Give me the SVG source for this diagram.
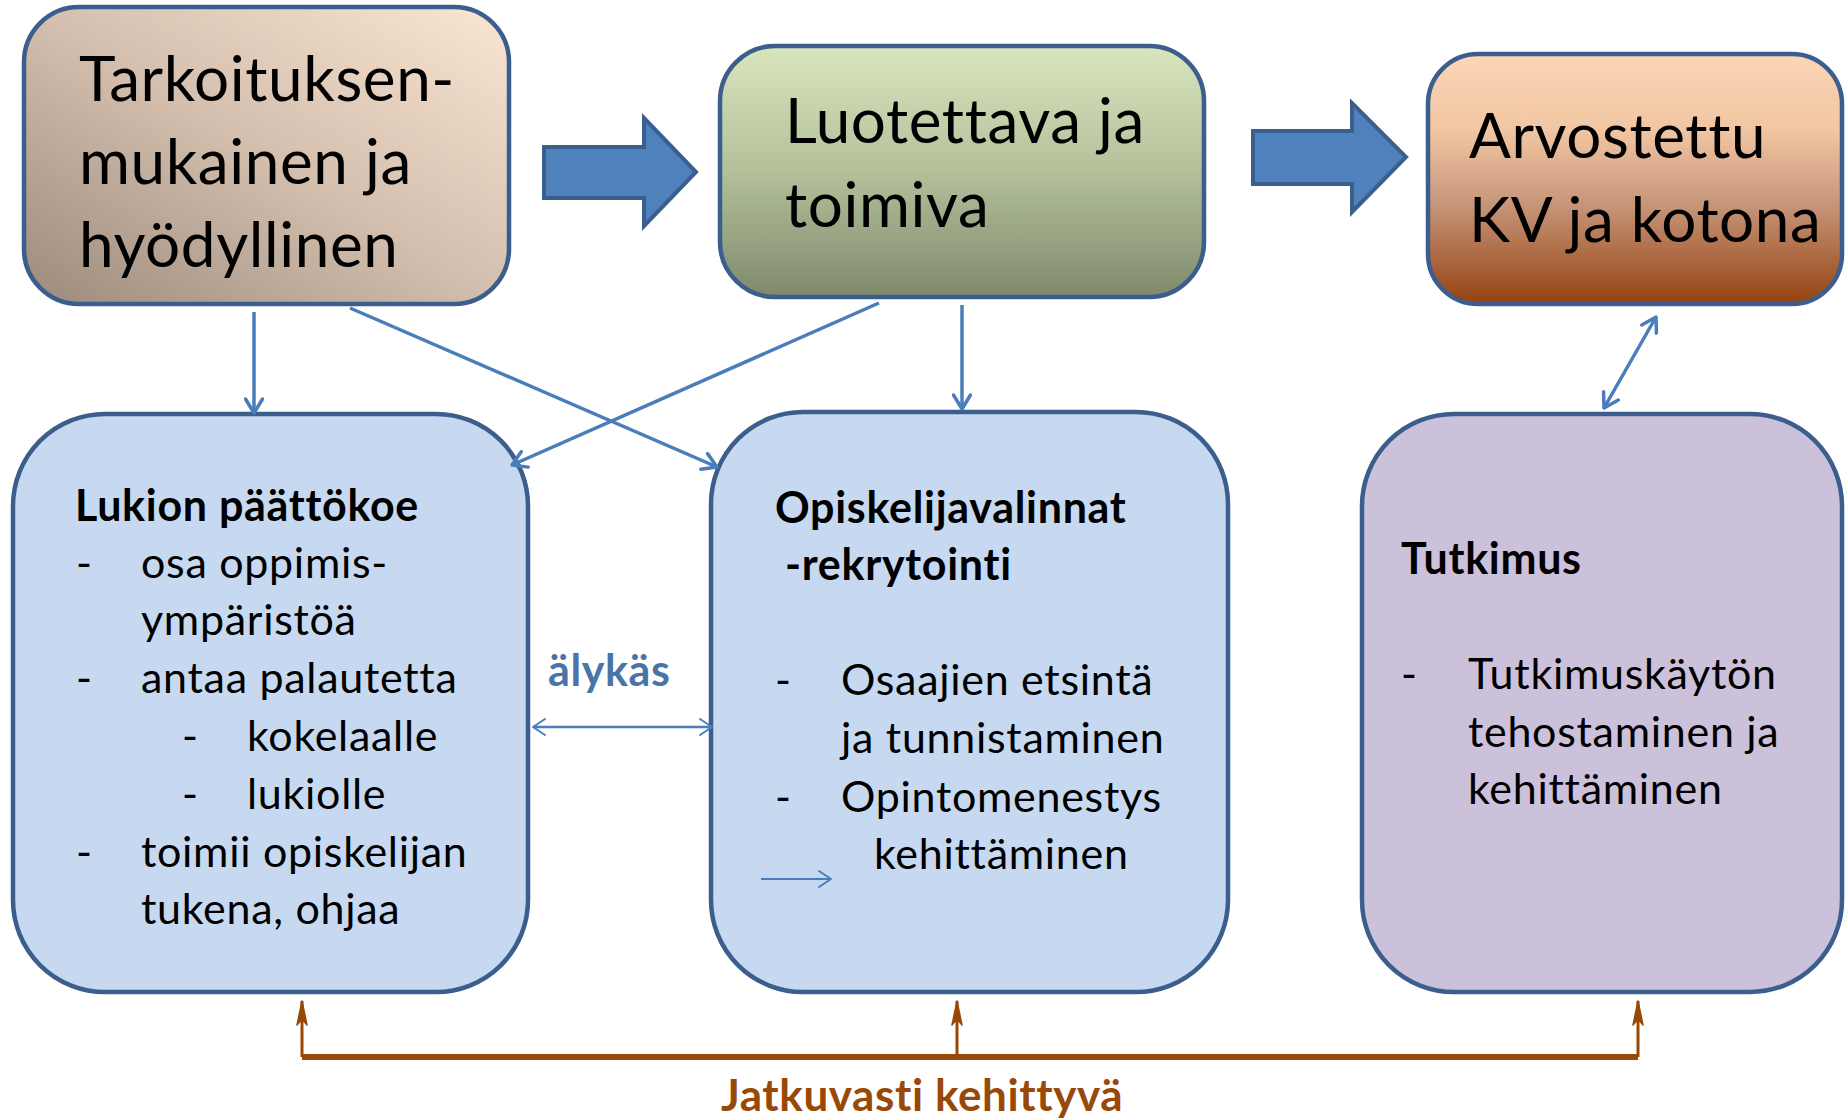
<svg xmlns="http://www.w3.org/2000/svg" width="1847" height="1119" viewBox="0 0 1847 1119">
<defs>
<linearGradient id="g1" x1="0" y1="1" x2="1" y2="0">
<stop offset="0" stop-color="#9c8a7c"/>
<stop offset="0.5" stop-color="#d4bfae"/>
<stop offset="1" stop-color="#fbe6d4"/>
</linearGradient>
<linearGradient id="g2" x1="0" y1="0" x2="0" y2="1">
<stop offset="0" stop-color="#d8e5bd"/>
<stop offset="0.5" stop-color="#b3c09a"/>
<stop offset="1" stop-color="#7f8a6c"/>
</linearGradient>
<linearGradient id="g3" x1="0" y1="0" x2="0" y2="1">
<stop offset="0" stop-color="#fbd6b6"/>
<stop offset="0.3" stop-color="#f2c6a3"/>
<stop offset="0.6" stop-color="#c7967a"/>
<stop offset="1" stop-color="#944210"/>
</linearGradient>
<marker id="open" viewBox="-16 -10 18 20" refX="0" refY="0" markerWidth="18" markerHeight="20" markerUnits="userSpaceOnUse" orient="auto-start-reverse">
<path d="M-14,-8.5 L0,0 L-14,8.5" fill="none" stroke="#4a7ebb" stroke-width="3.5" stroke-linecap="round" stroke-linejoin="round"/>
</marker>
<marker id="openthin" viewBox="-16 -10 18 20" refX="0" refY="0" markerWidth="18" markerHeight="20" markerUnits="userSpaceOnUse" orient="auto-start-reverse">
<path d="M-12,-8 L0,0 L-12,8" fill="none" stroke="#4a7ebb" stroke-width="2" stroke-linecap="round" stroke-linejoin="round"/>
</marker>
<marker id="brown" viewBox="-26 -7 28 14" refX="0" refY="0" markerWidth="28" markerHeight="14" markerUnits="userSpaceOnUse" orient="auto">
<path d="M0,0 L-24,-5 L-18,0 L-24,5 Z" fill="#984807" stroke="#984807" stroke-width="1.5" stroke-linejoin="round"/>
</marker>
</defs>
<style>
.box{stroke:#3b5e8c;stroke-width:4.5}
.big{font-family:Lato,"Liberation Sans",sans-serif;font-size:62px;letter-spacing:0.6px;fill:#000}
.t{font-family:Lato,"Liberation Sans",sans-serif;font-size:43px;letter-spacing:0.7px;fill:#000}
.b{font-family:Lato,"Liberation Sans",sans-serif;font-size:43px;letter-spacing:0.7px;font-weight:bold;fill:#000}
.blk{fill:#4f81bd;stroke:#3a5f8c;stroke-width:4}
.con{stroke:#4a7ebb;stroke-width:3.5;fill:none}
.brn{stroke:#984807;fill:none}
</style>
<rect width="1847" height="1119" fill="#fff"/>
<g id="n-tarkoituksen">
<rect class="box" x="24" y="7" width="485" height="297" rx="55" fill="url(#g1)"/>
<text class="big" x="79" y="101">Tarkoituksen-</text>
<text class="big" x="79" y="184">mukainen ja</text>
<text class="big" x="79" y="267">hyödyllinen</text>
</g>
<g id="n-luotettava">
<rect class="box" x="720" y="46" width="484" height="251" rx="55" fill="url(#g2)"/>
<text class="big" x="785" y="143">Luotettava ja</text>
<text class="big" x="785" y="227">toimiva</text>
</g>
<g id="n-arvostettu">
<rect class="box" x="1428" y="54" width="414" height="250" rx="50" fill="url(#g3)"/>
<text class="big" x="1469" y="158">Arvostettu</text>
<text class="big" x="1469" y="242">KV ja kotona</text>
</g>
<g id="a-block1">
<path class="blk" d="M544,147 L644,147 L644,118 L696,172 L644,226 L644,198 L544,198 Z"/>
</g>
<g id="a-block2">
<path class="blk" d="M1253,131 L1352,131 L1352,103 L1406,157 L1352,212 L1352,184 L1253,184 Z"/>
</g>
<g id="n-lukion">
<rect class="box" x="13" y="414" width="515" height="578" rx="92" fill="#c6d9f0"/>
<text class="b" x="75" y="521">Lukion päättökoe</text>
<text class="t" x="76" y="578">-</text><text class="t" x="141" y="578">osa oppimis-</text>
<text class="t" x="141" y="635">ympäristöä</text>
<text class="t" x="76" y="693">-</text><text class="t" x="141" y="693">antaa palautetta</text>
<text class="t" x="182" y="751">-</text><text class="t" x="247" y="751">kokelaalle</text>
<text class="t" x="182" y="809">-</text><text class="t" x="247" y="809">lukiolle</text>
<text class="t" x="76" y="867">-</text><text class="t" x="141" y="867">toimii opiskelijan</text>
<text class="t" x="141" y="924">tukena, ohjaa</text>
</g>
<g id="n-opiskelija">
<rect class="box" x="711" y="412" width="517" height="580" rx="92" fill="#c6d9f0"/>
<text class="b" x="775" y="523">Opiskelijavalinnat</text>
<text class="b" x="785" y="580">-rekrytointi</text>
<text class="t" x="775" y="695">-</text><text class="t" x="841" y="695">Osaajien etsintä</text>
<text class="t" x="841" y="753">ja tunnistaminen</text>
<text class="t" x="775" y="812">-</text><text class="t" x="841" y="812">Opintomenestys</text>
<text class="t" x="874" y="869">kehittäminen</text>
</g>
<g id="n-tutkimus">
<rect class="box" x="1362" y="414" width="480" height="578" rx="92" fill="#ccc1da"/>
<text class="b" x="1401" y="574">Tutkimus</text>
<text class="t" x="1401" y="689">-</text><text class="t" x="1468" y="689">Tutkimuskäytön</text>
<text class="t" x="1468" y="747">tehostaminen ja</text>
<text class="t" x="1468" y="804">kehittäminen</text>
</g>
<g id="connectors">
<line class="con" x1="254" y1="312" x2="254" y2="413" marker-end="url(#open)"/>
<line class="con" x1="350" y1="308" x2="717" y2="467" marker-end="url(#open)"/>
<line class="con" x1="879" y1="303" x2="512" y2="465" marker-end="url(#open)"/>
<line class="con" x1="962" y1="305" x2="962" y2="409" marker-end="url(#open)"/>
<line class="con" x1="1604" y1="408" x2="1656" y2="317" marker-start="url(#open)" marker-end="url(#open)"/>
<line class="con" style="stroke-width:2.5" x1="533" y1="727" x2="712" y2="727" marker-start="url(#openthin)" marker-end="url(#openthin)"/>
<line class="con" style="stroke-width:1.8" x1="761" y1="879" x2="831" y2="879" marker-end="url(#openthin)"/>
<line class="brn" stroke-width="6" x1="302" y1="1057" x2="1638" y2="1057"/>
<line class="brn" stroke-width="3" x1="302" y1="1057" x2="302" y2="1001" marker-end="url(#brown)"/>
<line class="brn" stroke-width="3" x1="957" y1="1057" x2="957" y2="1001" marker-end="url(#brown)"/>
<line class="brn" stroke-width="3" x1="1638" y1="1057" x2="1638" y2="1001" marker-end="url(#brown)"/>
</g>
<text x="548" y="686" font-family="Lato,'Liberation Sans',sans-serif" font-size="43" letter-spacing="0.6" font-weight="bold" fill="#4a74a8">älykäs</text>
<text x="721" y="1111" font-family="Lato,'Liberation Sans',sans-serif" font-size="44" letter-spacing="0.6" font-weight="bold" fill="#984807">Jatkuvasti  kehittyvä</text>
</svg>
